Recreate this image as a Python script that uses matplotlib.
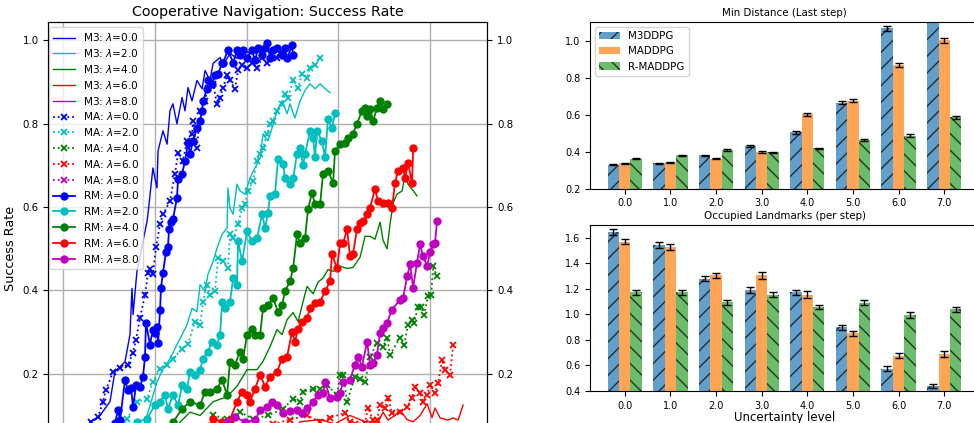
import numpy as np
import matplotlib
matplotlib.use('Agg')
import matplotlib.pyplot as plt

# ---------------- data: success-rate curves (x in training units, y success rate) ----------------
lambdas = [0.0, 2.0, 4.0, 6.0, 8.0]
colors = ['b', 'c', 'g', 'r', 'm']

m3_l0 = [(10,.05),(14.7,.084),(20.2,.10),(25.6,.133),(28.3,.205),(33.8,.229),(36.5,.294),(37.6,.405),(38.2,.342),
         (40.3,.446),(43.6,.518),(45.8,.566),(46.3,.583),(49,.694),(51.2,.646),(51.8,.735),(54.5,.783),(56.7,.751),
         (58.3,.831),(59.9,.848),(62.1,.80),(64.9,.863),(66.5,.831),(68.1,.887),(70.3,.855),(73,.904),(75.8,.884),
         (77.4,.928),(80.1,.904),(81.8,.945),(85.6,.959),(87.2,.94),(91,.969),(94.8,.957),(97.6,.976),(103,.968),(108.5,.975)]
m3_l2 = [(42,.05),(45.8,.10),(51.2,.18),(54.5,.212),(58.3,.236),(62.1,.27),(64.9,.294),(67.6,.318),(70.3,.357),(73,.349),
         (74.7,.414),(77.4,.398),(79,.439),(81.8,.47),(83.9,.501),(86.7,.535),(89.4,.55),(89.9,.646),(91,.598),(92.7,.583),
         (94.8,.655),(96.5,.639),(99.2,.631),(101.9,.67),(104.6,.694),(107.4,.718),(109,.776),(111.7,.759),(113.9,.79),
         (116.6,.831),(119.4,.855),(122.1,.824),(123.7,.848),(126.4,.814),(129.2,.855),(131.9,.88),(134.6,.896),
         (137.3,.884),(140.1,.896),(142.8,.884),(145.5,.875)]
m3_l4 = [(58.3,.05),(63.8,.084),(69.2,.108),(74.7,.10),(81.8,.133),(89.4,.145),(94.8,.17),(100.3,.21),(105.7,.21),
         (109,.23),(112.8,.265),(116.6,.306),(119.4,.294),(122.1,.33),(125.4,.347),(128.1,.325),(130.8,.373),(133,.41),
         (136.3,.392),(139,.42),(141.7,.43),(144.4,.45),(147.2,.446),(151,.458),(154.8,.453),(158,.455),(161.9,.48),
         (164.6,.53),(167.3,.53),(170,.523),(172.8,.564),(174.4,.52),(176.6,.50),(178.2,.559),(179.9,.61),(182,.631),
         (184.8,.639),(186.4,.68),(188,.655),(190.2,.643),(192.9,.627)]
m3_l6 = [(120,.03),(129.2,.085),(140.1,.09),(148.2,.08),(156.4,.10),(164.6,.085),(171.7,.084),(174.4,.108),(177.1,.089),
         (180.9,.10),(183.7,.113),(187.5,.09),(190.8,.085),(194.6,.10),(198.4,.128),(201.1,.095),(202.7,.118),
         (205.5,.094),(209.8,.089),(212.6,.094),(215.3,.089),(218,.125)]
m3_l8 = [(150,.01),(180,.03),(215,.05)]

ma_l0 = [(11,.05),(15.3,.084),(19.1,.096),(21.8,.133),(23.4,.161),(27.3,.205),(31.1,.214),(35.4,.222),(38.2,.251),
         (39.8,.282),(42,.335),(44.7,.39),(46.3,.443),(47.4,.451),(49,.439),(50.7,.504),(52.9,.56),(54.5,.583),
         (58.3,.614),(61,.68),(62.7,.73),(65.4,.711),(67.6,.759),(70.3,.776),(70.9,.807),(73,.742),(74.7,.831),
         (77.4,.855),(79,.887),(81.8,.896),(83.9,.848),(85.6,.863),(87.2,.887),(89.4,.916),(91,.904),(93.7,.884),
         (95.4,.928),(97.6,.94),(100.3,.933),(103,.947),(105.7,.933),(108.5,.957),(111.2,.945),(113.9,.964),
         (116.6,.957),(118.3,.969)]
ma_l2 = [(31.1,.05),(34.9,.092),(40.3,.133),(45.8,.14),(49,.181),(52.9,.212),(56.7,.222),(59.9,.236),(64.9,.26),
         (68.1,.272),(71.9,.325),(74.7,.318),(76.3,.373),(78.5,.414),(80.1,.39),(82.8,.398),(84.5,.477),(87.2,.47),
         (89.9,.453),(91,.535),(92.7,.525),(95.4,.559),(97.6,.598),(99.2,.607),(100.8,.639),(103.6,.663),(105.7,.711),
         (107.4,.728),(109,.742),(111.2,.776),(112.8,.80),(114.5,.807),(116.6,.831),(119.4,.848),(121,.872),
         (122.6,.863),(125.4,.904),(128.1,.887),(130.3,.92),(133,.911),(134.6,.935),(137.3,.94),(140.1,.959)]
ma_l4 = [(75,.05),(81.8,.10),(89.4,.092),(96.5,.108),(103.6,.092),(111.7,.10),(119.9,.116),(125.4,.14),(129.2,.133),
         (130.8,.157),(136.3,.164),(140.1,.164),(143.9,.173),(149.3,.149),(151,.198),(152.6,.198),(154.8,.133),
         (159.1,.193),(161.9,.188),(164.6,.181),(167.3,.241),(171.1,.275),(174.4,.265),(176.6,.287),(178.2,.246),
         (183.7,.287),(185.9,.27),(188,.318),(190.2,.33),(191.3,.323),(193.5,.361),(195.1,.361),(196.8,.342),
         (198.9,.386),(200.6,.388),(201.7,.458),(203.8,.434)]
ma_l6 = [(105,.04),(114.5,.08),(123.7,.09),(133,.10),(140.1,.085),(145.5,.095),(153.7,.106),(156.4,.084),(159.1,.08),
         (164.6,.082),(166.2,.118),(169,.089),(171.1,.089),(172.8,.125),(175.5,.118),(177.1,.142),(179.3,.106),
         (183.7,.108),(187.5,.12),(190.2,.142),(191.8,.169),(194.6,.154),(196.2,.133),(198.4,.149),(200,.173),
         (202.7,.154),(204.4,.178),(206.6,.234),(208.2,.21),(210.9,.198),(212.6,.27)]
ma_l8 = [(120,.02),(150,.04),(180,.05),(210,.06)]

rm_l0 = [(25,.05),(28.3,.082),(30,.113),(31.1,.089),(33.8,.186),(35.4,.161),(37.1,.166),(38.2,.12),(39.8,.173),
         (42,.169),(43.6,.193),(44.7,.241),(45.2,.323),(47.4,.27),(49,.306),(50.1,.299),(51.2,.313),(51.8,.274),
         (52.9,.354),(53.4,.407),(54.5,.443),(56.1,.492),(57.2,.504),(57.8,.547),(58.9,.564),(59.9,.571),(62.1,.622),
         (62.7,.667),(64.9,.68),(66.5,.711),(68.1,.754),(69.2,.728),(70.9,.759),(73,.79),(74.7,.807),(75.8,.831),
         (76.3,.855),(78.5,.884),(79,.904),(81.2,.896),(82.8,.916),(84.5,.92),(86.7,.945),(87.2,.947),(89.9,.976),
         (92.7,.947),(94.8,.976),(96.5,.964),(98.1,.976),(100.3,.959),(103,.976),(104.6,.952),(106.3,.981),
         (108.5,.964),(110.1,.983),(111.2,.995),(112.8,.959),(114.5,.976),(116.6,.983),(119.4,.964),(121,.981),
         (122.1,.957),(124.8,.988),(125.4,.964)]
rm_l2 = [(36.5,.05),(40.3,.084),(45.8,.092),(50.1,.125),(52.9,.133),(55.6,.149),(57.2,.116),(59.9,.149),(62.7,.125),
         (64.9,.173),(67.6,.164),(69.2,.205),(71.9,.198),(74.7,.21),(76.3,.236),(79,.253),(81.2,.277),(83.9,.27),
         (85.6,.294),(86.7,.373),(88.3,.357),(91,.373),(92.7,.429),(94.8,.414),(95.4,.518),(97.6,.47),(100.3,.542),
         (103,.518),(105.7,.525),(108.5,.583),(110.1,.55),(111.7,.586),(112.8,.627),(115.5,.631),(117.2,.716),
         (119.9,.704),(121,.67),(123.7,.655),(125.4,.67),(127.5,.727),(129.2,.742),(130.8,.70),(131.9,.727),
         (134.6,.783),(136.3,.766),(137.3,.72),(138.4,.783),(141.1,.759),(142.8,.72),(144.4,.812),(146.6,.79),
         (148.2,.826)]
rm_l4 = [(58.3,.05),(60,.084),(64.9,.116),(69.2,.133),(74.7,.125),(77.4,.157),(80.1,.157),(83.9,.164),(86.7,.186),
         (89.4,.149),(91,.229),(93.7,.222),(96.5,.253),(98.1,.236),(100.3,.294),(103,.308),(104.6,.294),(107.4,.294),
         (109,.357),(111.7,.366),(114.5,.381),(117.2,.349),(119.4,.366),(121,.398),(123.7,.422),(125.4,.453),
         (127.5,.535),(129.2,.513),(131.9,.525),(133.5,.595),(135.7,.634),(137.3,.607),(140.1,.607),(141.7,.68),
         (144.4,.687),(147.2,.658),(148.2,.735),(151,.751),(153.7,.754),(155.3,.766),(158,.776),(160.2,.80),
         (162.9,.831),(164.6,.838),(165.7,.819),(167.3,.836),(169,.807),(171.1,.838),(172.8,.855),(174.4,.836),
         (176.6,.848)]
rm_l6 = [(77.4,.05),(81.8,.092),(86.7,.085),(91,.09),(94.8,.133),(97.6,.157),(100.3,.149),(101.9,.133),(104.6,.164),
         (107.4,.198),(110.1,.169),(112.8,.193),(116.6,.205),(119.4,.236),(122.1,.241),(124.8,.301),(126.4,.277),
         (128.1,.308),(130.3,.325),(133,.333),(134.6,.357),(137.3,.369),(140.1,.373),(142.8,.398),(145.5,.422),
         (146.6,.487),(149.3,.453),(151,.513),(152.6,.513),(154.8,.547),(156.4,.482),(158,.487),(160.2,.547),
         (161.9,.561),(163.5,.566),(165.7,.583),(167.3,.598),(170,.643),(171.7,.614),(174.4,.61),(177.1,.61),
         (179.3,.598),(180.9,.658),(182.6,.687),(185.3,.694),(186.4,.67),(188,.706),(190.2,.658),(190.8,.742)]
rm_l8 = [(82.8,.05),(89.4,.084),(93.7,.096),(99.2,.085),(104.6,.088),(107.4,.113),(111.2,.12),(113.9,.133),(116.6,.125),
         (119.9,.106),(123.7,.11),(127.5,.113),(130.3,.106),(133,.118),(136.3,.133),(139,.149),(141.7,.154),
         (142.8,.181),(145.5,.142),(149.3,.145),(151,.154),(152.6,.181),(156.4,.186),(159.1,.222),(160.8,.241),
         (162.9,.217),(165.7,.277),(167.3,.222),(169,.226),(171.1,.246),(172.8,.299),(174.4,.311),(176.6,.323),
         (179.3,.354),(183.7,.378),(185.3,.381),(187.5,.434),(189.1,.463),(190.8,.407),(192.9,.467),(194.6,.511),
         (196.2,.482),(198.4,.458),(200,.492),(201.7,.511),(202.7,.513),(203.8,.566)]

m3_series = [m3_l0, m3_l2, m3_l4, m3_l6, m3_l8]
ma_series = [ma_l0, ma_l2, ma_l4, ma_l6, ma_l8]
rm_series = [rm_l0, rm_l2, rm_l4, rm_l6, rm_l8]

# ---------------- data: bar charts ----------------
levels = ['0.0', '1.0', '2.0', '3.0', '4.0', '5.0', '6.0', '7.0']
methods = ['M3DDPG', 'MADDPG', 'R-MADDPG']
dist_m3 = [0.330, 0.338, 0.380, 0.432, 0.505, 0.665, 1.065, 1.200]
dist_ma = [0.338, 0.343, 0.362, 0.397, 0.602, 0.676, 0.866, 1.001]
dist_rm = [0.363, 0.380, 0.408, 0.396, 0.418, 0.462, 0.487, 0.585]
dist_m3_err = [0.003, 0.003, 0.003, 0.005, 0.007, 0.010, 0.012, 0.015]
dist_ma_err = [0.003, 0.003, 0.003, 0.004, 0.007, 0.010, 0.010, 0.013]
dist_rm_err = [0.003, 0.004, 0.004, 0.004, 0.004, 0.006, 0.006, 0.008]
occ_m3 = [1.645, 1.545, 1.280, 1.190, 1.172, 0.900, 0.575, 0.440]
occ_ma = [1.570, 1.530, 1.305, 1.305, 1.155, 0.852, 0.675, 0.690]
occ_rm = [1.172, 1.172, 1.095, 1.155, 1.055, 1.090, 0.995, 1.040]
occ_m3_err = [0.022, 0.022, 0.022, 0.022, 0.022, 0.020, 0.020, 0.015]
occ_ma_err = [0.022, 0.022, 0.022, 0.025, 0.025, 0.020, 0.020, 0.020]
occ_rm_err = [0.018, 0.020, 0.018, 0.020, 0.015, 0.020, 0.020, 0.020]

W, H = 974, 423
fig = plt.figure(figsize=(W / 100, H / 100), dpi=100)

# ---------------- left: success-rate curves ----------------
ax = fig.add_axes([48.3 / W, 1 - 475.9 / H, (487.3 - 48.3) / W, (475.9 - 21.7) / H])
for pts, lam, c in zip(m3_series, lambdas, colors):
    xs, ys = zip(*pts)
    ax.plot(xs, ys, '-', color=c, lw=1.0, label=r'M3: $\lambda$=%.1f' % lam)
for pts, lam, c in zip(ma_series, lambdas, colors):
    xs, ys = zip(*pts)
    ax.plot(xs, ys, ':', color=c, lw=1.3, marker='x', ms=4.5, mew=1.3, label=r'MA: $\lambda$=%.1f' % lam)
for pts, lam, c in zip(rm_series, lambdas, colors):
    xs, ys = zip(*pts)
    ax.plot(xs, ys, '-', color=c, lw=1.3, marker='o', ms=5, label=r'RM: $\lambda$=%.1f' % lam)

ax.set_xlim(-8, 231.2)
ax.set_ylim(-0.045, 1.045)
ax.set_xticks([0, 50, 100, 150, 200])
ax.set_yticks([0.2, 0.4, 0.6, 0.8, 1.0])
ax.grid(True, color='#b0b0b0', lw=1.0)
ax.tick_params(labelsize=7.4, labelbottom=False)
ax.set_ylabel('Success Rate', fontsize=9.2)
ax.set_title('Cooperative Navigation: Success Rate', fontsize=10.3, pad=4)
ax.legend(loc='upper left', bbox_to_anchor=(0.002, 0.988), borderaxespad=0,
          fontsize=7.6, labelspacing=0.36, handlelength=2.0, framealpha=0.8)
ax2 = ax.twinx()
ax2.set_ylim(ax.get_ylim())
ax2.set_yticks([0.2, 0.4, 0.6, 0.8, 1.0])
ax2.tick_params(labelsize=7.4)

# ---------------- right: bar charts ----------------
x = np.arange(len(levels))
w = 0.25
bar_cols = ['#1f77b4', '#ff7f0e', '#2ca02c']
hatches = ['//', '', '\\\\']
ekw = dict(ecolor='k', capsize=3, elinewidth=1, capthick=1)

def bars(a, vals, errs):
    for i, (v, e) in enumerate(zip(vals, errs)):
        a.bar(x + (i - 1) * w, v, w, yerr=e, color=bar_cols[i], alpha=0.7, hatch=hatches[i],
              edgecolor='k', linewidth=0, error_kw=ekw, label=methods[i])
    a.set_xticks(x)
    a.set_xticklabels(levels)
    a.tick_params(labelsize=7)
    a.set_xlim(-0.7625, 7.7625)

axt = fig.add_axes([590 / W, 1 - 188.7 / H, 389 / W, (188.7 - 22) / H])
bars(axt, [dist_m3, dist_ma, dist_rm], [dist_m3_err, dist_ma_err, dist_rm_err])
axt.set_ylim(0.2, 1.1)
axt.set_yticks([0.2, 0.4, 0.6, 0.8, 1.0])
axt.set_title('Min Distance (Last step)', fontsize=7.4, pad=4)
axt.legend(loc='upper left', fontsize=7.4)

axb = fig.add_axes([590 / W, 1 - 391 / H, 389 / W, (391 - 225) / H])
bars(axb, [occ_m3, occ_ma, occ_rm], [occ_m3_err, occ_ma_err, occ_rm_err])
axb.set_ylim(0.4, 1.7)
axb.set_yticks([0.4, 0.6, 0.8, 1.0, 1.2, 1.4, 1.6])
axb.set_title('Occupied Landmarks (per step)', fontsize=7.4, pad=4)
axb.set_xlabel('Uncertainty level', fontsize=8.5, labelpad=0)

fig.savefig('out.png', dpi=100)
